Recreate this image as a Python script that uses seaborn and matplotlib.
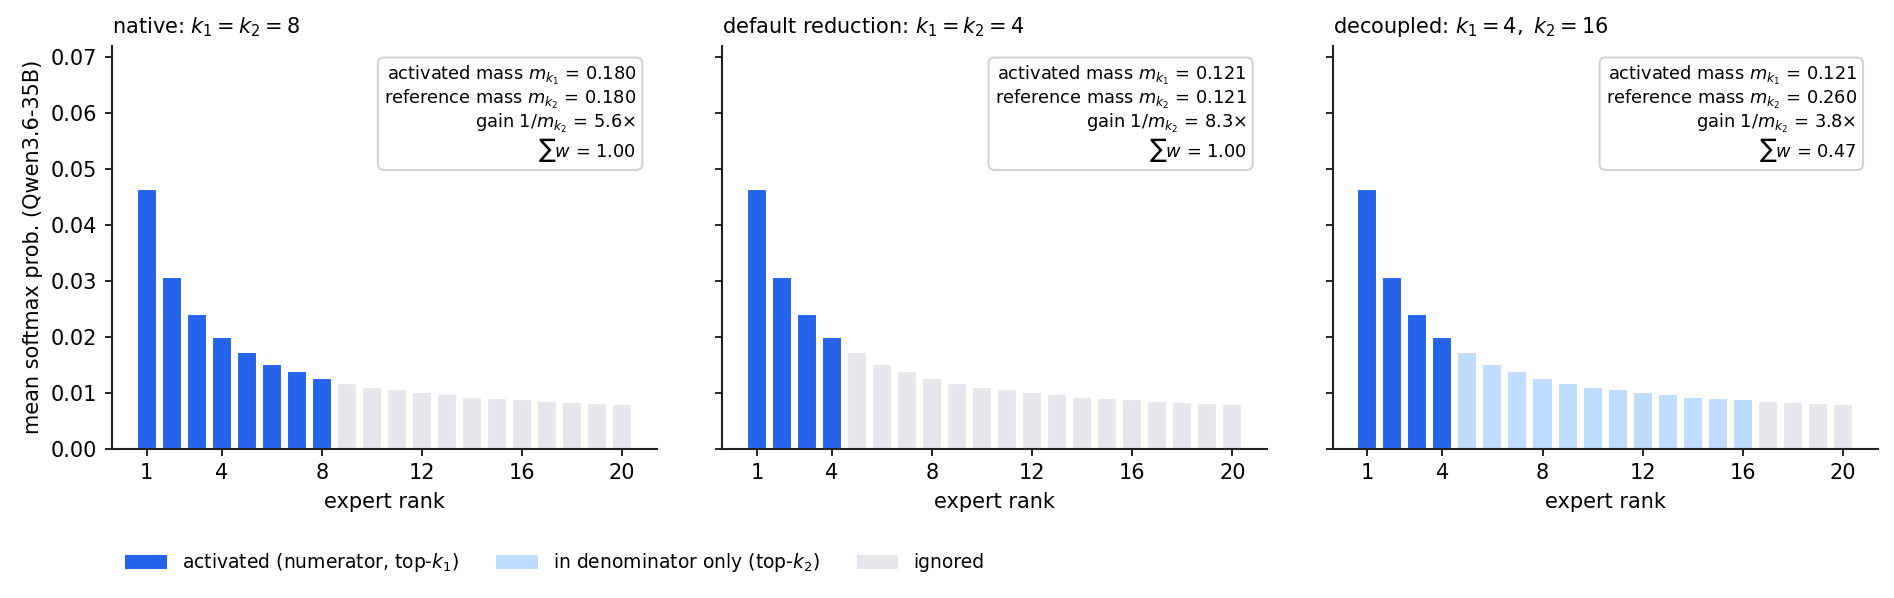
import seaborn as sns
import matplotlib
matplotlib.use("Agg")
import matplotlib.pyplot as plt
from matplotlib.patches import Patch
import pandas as pd

sns.set_style("ticks")
plt.rcParams['font.family'] = ['DejaVu Sans']
plt.rcParams['font.size'] = 10
plt.rcParams['axes.linewidth'] = 1.0
plt.rcParams['text.color'] = 'black'
plt.rcParams['axes.labelcolor'] = 'black'
plt.rcParams['xtick.color'] = 'black'
plt.rcParams['ytick.color'] = 'black'
plt.rcParams['axes.edgecolor'] = '#222222'

# mean softmax prob. of the 20 highest ranked experts
ranks = list(range(1, 21))
probs = [0.0464, 0.0306, 0.0240, 0.0200, 0.0172, 0.0152, 0.0138, 0.0127,
         0.0118, 0.0111, 0.0106, 0.0101, 0.0097, 0.0093, 0.0090, 0.0088,
         0.0085, 0.0083, 0.0081, 0.0079]

titles = ["native: $k_1 = k_2 = 8$",
          "default reduction: $k_1 = k_2 = 4$",
          "decoupled: $k_1 = 4,\\ k_2 = 16$"]
k1_values = [8, 4, 4]
k2_values = [8, 4, 16]
m1_text = ["0.180", "0.121", "0.121"]
m2_text = ["0.180", "0.121", "0.260"]
gain_text = ["5.6", "8.3", "3.8"]
sumw_text = ["1.00", "1.00", "0.47"]

xticks = [1, 4, 8, 12, 16, 20]

groups = ["activated", "denominator", "ignored"]
colors = {"activated": "#2563eb", "denominator": "#bfdbfe", "ignored": "#e5e7eb"}
legend_labels = ["activated (numerator, top-$k_1$)",
                 "in denominator only (top-$k_2$)",
                 "ignored"]

fig, axes = plt.subplots(1, 3, figsize=(1894 / 150, 598 / 150), dpi=150,
                         sharey=True)
fig.subplots_adjust(left=0.0591, right=0.9913, bottom=0.2497, top=0.9236,
                    wspace=0.12)

for i, ax in enumerate(axes):
    k1, k2 = k1_values[i], k2_values[i]
    group = ["activated" if r <= k1 else "denominator" if r <= k2 else "ignored"
             for r in ranks]
    df = pd.DataFrame({"rank": ranks, "prob": probs, "group": group})
    sns.barplot(data=df, x="rank", y="prob", hue="group", hue_order=groups,
                palette=colors, native_scale=True, dodge=False, width=0.8,
                saturation=1, errorbar=None, legend=False, ax=ax)
    lo, hi = ranks[0] - 0.4, ranks[-1] + 0.4
    pad = 0.05 * (hi - lo)
    ax.set_xlim(lo - pad, hi + pad)
    ax.set_ylim(0, 0.072)
    ax.set_xticks(xticks)
    ax.set_xticklabels([str(t) for t in xticks])
    ax.set_yticks([0, 0.01, 0.02, 0.03, 0.04, 0.05, 0.06, 0.07])
    ax.set_xlabel("expert rank", fontsize=10)
    ax.set_ylabel("")
    ax.set_title(titles[i], loc="left", fontsize=10)
    ax.tick_params(labelsize=10)
    sns.despine(ax=ax)

    txt = (f"activated mass $m_{{k_1}}$ = {m1_text[i]}\n"
           f"reference mass $m_{{k_2}}$ = {m2_text[i]}\n"
           f"gain $1/m_{{k_2}}$ = {gain_text[i]}×\n"
           f"$\\sum w$ = {sumw_text[i]}")
    ax.text(0.962, 0.955, txt, transform=ax.transAxes, ha="right", va="top",
            multialignment="right", fontsize=8.5, linespacing=1.05,
            bbox=dict(boxstyle="round,pad=0.35", facecolor="white",
                      edgecolor="#cfd3d8", linewidth=1.0))

axes[0].set_ylabel("mean softmax prob. (Qwen3.6-35B)", fontsize=10)
axes[0].yaxis.set_major_formatter(matplotlib.ticker.FormatStrFormatter("%.2f"))

handles = [Patch(facecolor=colors[g], edgecolor="none") for g in groups]
fig.legend(handles, legend_labels, loc="center",
           bbox_to_anchor=(555 / 1894, 1 - 563 / 598), ncol=3, frameon=False,
           fontsize=9, handlelength=2.2, handleheight=0.8)

fig.savefig("out.png", dpi=150)
